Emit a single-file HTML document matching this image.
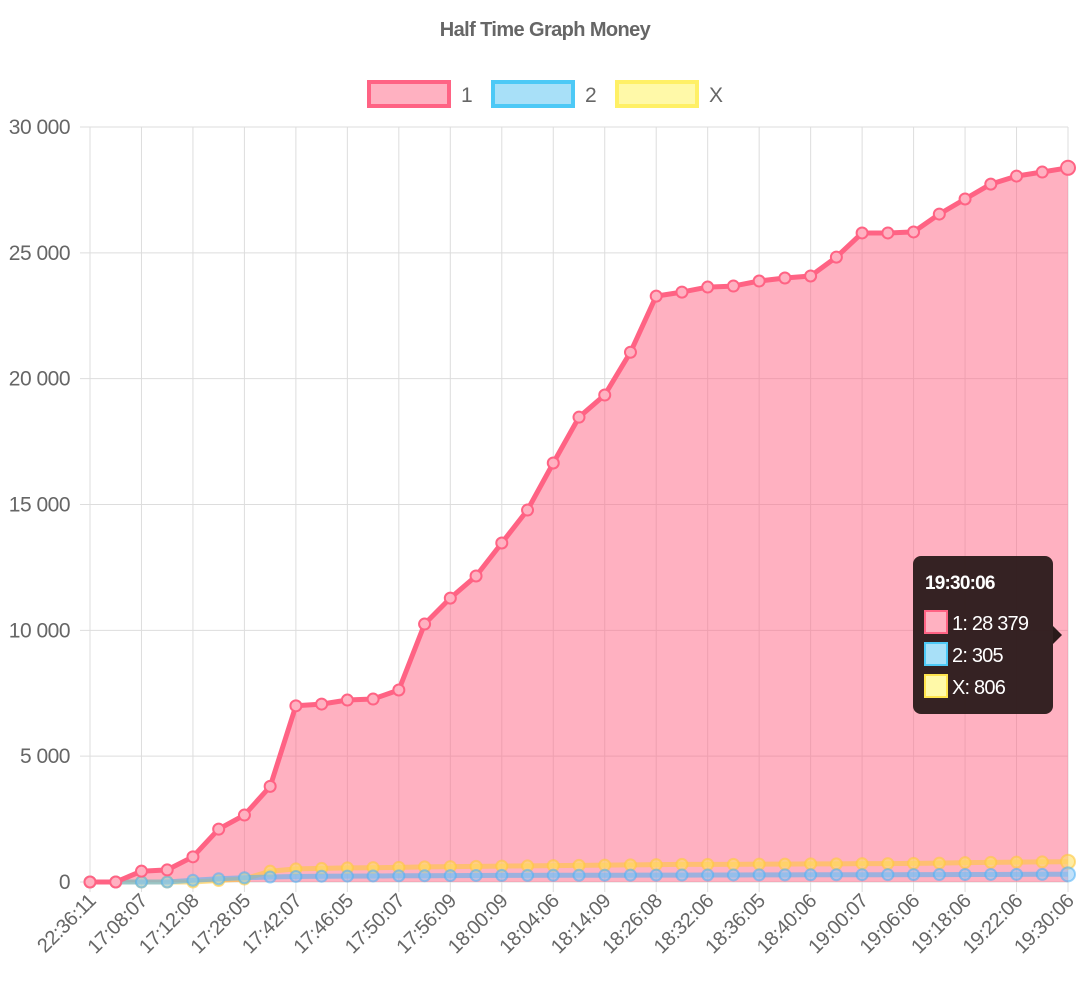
<!DOCTYPE html>
<html><head><meta charset="utf-8"><style>
html,body{margin:0;padding:0;background:#fff;}
svg{display:block;font-family:"Liberation Sans",Arial,sans-serif;}
</style></head><body>
<svg id="c" width="1090" height="996" xmlns="http://www.w3.org/2000/svg"></svg>
<script>
const s=document.getElementById('c');
let h='';
const X0=90,X1=1068,Y0=882,Y30=127;
const dx=(X1-X0)/38;
const yv=v=>Y0-(Y0-Y30)*v/30000;
const xi=i=>X0+i*dx;
h+='<text x="545" y="36" text-anchor="middle" font-size="20" font-weight="bold" fill="#666" letter-spacing="-0.6">Half Time Graph Money</text>';
h+='<rect x="369" y="82" width="80" height="24" fill="#ffb1c1" stroke="#ff6384" stroke-width="4"/><text x="461" y="102" font-size="21" fill="#666">1</text>';
h+='<rect x="493" y="82" width="80" height="24" fill="#a8e0f8" stroke="#4dc9f6" stroke-width="4"/><text x="585" y="102" font-size="21" fill="#666">2</text>';
h+='<rect x="617" y="82" width="80" height="24" fill="#fff9a8" stroke="#fff066" stroke-width="4"/><text x="709" y="102" font-size="21" fill="#666">X</text>';
for(let k=0;k<=6;k++){const y=yv(k*5000);h+=`<line x1="${X0-10}" x2="${X1}" y1="${y}" y2="${y}" stroke="#ddd" stroke-width="1"/>`;
const lab=k==0?'0':(k*5)+' 000';h+=`<text x="70" y="${y+7}" text-anchor="end" font-size="21" fill="#666" letter-spacing="-0.5">${lab}</text>`;}
const labs=['22:36:11','17:08:07','17:12:08','17:28:05','17:42:07','17:46:05','17:50:07','17:56:09','18:00:09','18:04:06','18:14:09','18:26:08','18:32:06','18:36:05','18:40:06','19:00:07','19:06:06','19:18:06','19:22:06','19:30:06'];
labs.forEach((l,j)=>{const x=xi(2*j);h+=`<line x1="${x}" x2="${x}" y1="${Y30}" y2="${Y0+10}" stroke="#ddd"/>`;
h+=`<text transform="translate(${x+7},${Y0+20}) rotate(-45)" text-anchor="end" font-size="20" fill="#666" letter-spacing="-0.4">${l}</text>`;});
const d1=[0,0,430,480,1000,2100,2660,3800,7000,7070,7230,7270,7630,10250,11280,12160,13470,14780,16650,18470,19350,21050,23280,23440,23640,23680,23880,24000,24080,24830,25790,25790,25830,26540,27140,27730,28050,28210,28379];
const dX=[0,0,0,0,0,60,120,430,520,540,560,570,580,600,610,620,630,640,650,660,670,680,690,700,700,700,710,710,720,720,730,730,740,750,770,780,790,800,806];
const d2=[0,0,0,0,70,130,170,200,220,230,235,240,245,250,255,260,262,264,266,268,270,272,274,276,278,280,282,284,286,288,290,292,294,296,298,300,302,304,305];
const pts=d=>d.map((v,i)=>xi(i).toFixed(1)+','+yv(v).toFixed(1)).join(' ');
h+=`<polygon points="${X0},${Y0} ${pts(d1)} ${X1},${Y0}" fill="#ff6384" fill-opacity="0.5"/>`;
function line(d,col,fill,op){h+=`<polyline points="${pts(d)}" fill="none" stroke="${col}" stroke-width="5" stroke-opacity="${op}" stroke-linejoin="round"/>`;
d.forEach((v,i)=>{const r=i==38?7:5.5;h+=`<circle cx="${xi(i)}" cy="${yv(v)}" r="${r}" fill="${fill}" fill-opacity="${op}" stroke="${col}" stroke-opacity="${op}" stroke-width="2"/>`;});}
line(dX,'#ffc83d','#ffe066',0.6);
line(d2,'#4db0f6','#8ec8f5',0.55);
line(d1,'#ff6384','#ffb1c1',1);
h+='<rect x="913" y="556" width="140" height="158" rx="8" fill="#2a1a1a" fill-opacity="0.95"/><polygon points="1053,626 1062,635 1053,644" fill="#2a1a1a"/>';
h+='<text x="925" y="589" font-size="19" font-weight="bold" fill="#fff" letter-spacing="-0.8">19:30:06</text>';
const tt=[['#ffb1c1','#ff6384','1: 28 379'],['#a8e0f8','#4dc9f6','2: 305'],['#fff9a8','#ffe44d','X: 806']];
tt.forEach((t,j)=>{const y=611+j*32;h+=`<rect x="925" y="${y}" width="22" height="22" fill="${t[0]}" stroke="${t[1]}" stroke-width="2"/><text x="952" y="${y+19}" font-size="20" fill="#fff" letter-spacing="-0.8">${t[2]}</text>`;});
s.innerHTML=h;
</script>
</body></html>
